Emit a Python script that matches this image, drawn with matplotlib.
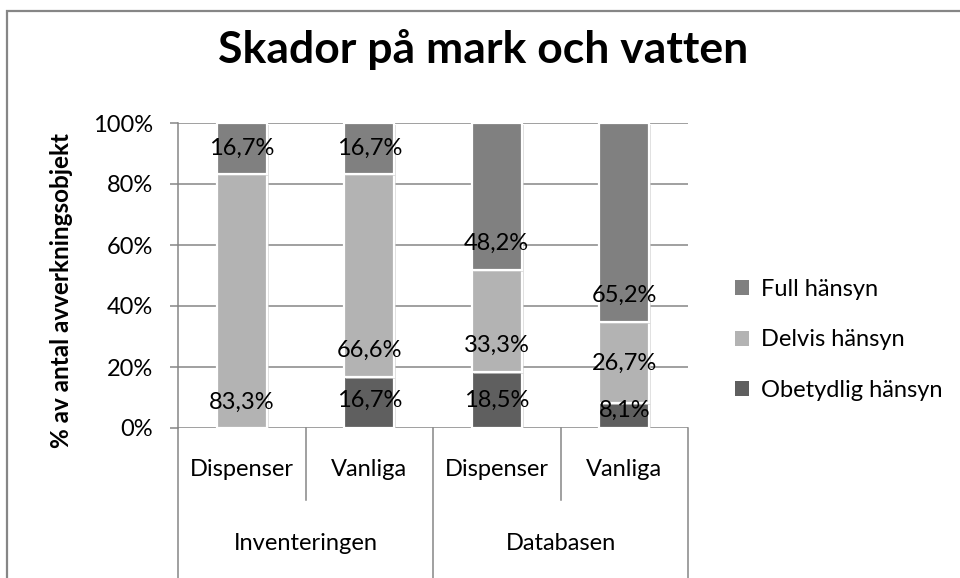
import matplotlib.pyplot as plt
from matplotlib.patches import Patch, Rectangle
import matplotlib.patheffects as pe

plt.rcParams['font.family'] = ['Lato', 'DejaVu Sans']

# data
groups = ['Inventeringen', 'Databasen']
subcats = ['Dispenser', 'Vanliga', 'Dispenser', 'Vanliga']
series = ['Obetydlig hänsyn', 'Delvis hänsyn', 'Full hänsyn']
obetydlig = [0.0, 16.7, 18.5, 8.1]
delvis = [83.3, 66.6, 33.3, 26.7]
full = [16.7, 16.7, 48.2, 65.2]
colors = ['#5f5f5f', '#b3b3b3', '#808080']

# where the labels were placed in the original (data units)
label_y = {
    'Obetydlig hänsyn': [None, 9.2, 9.0, 5.9],
    'Delvis hänsyn': [8.5, 25.6, 27.2, 21.3],
    'Full hänsyn': [91.8, 91.8, 60.7, 43.6],
}

FS = 17

fig = plt.figure(figsize=(9.6, 5.78), dpi=100)
fig.patches.append(Rectangle((7 / 960, -0.1), 1.2, 1 - 11 / 578 + 0.1,
                             transform=fig.transFigure, fill=False,
                             edgecolor='#868686', linewidth=1.6))

ax = fig.add_axes([178 / 960, 1 - 428 / 578, 510 / 960, 305 / 578])
x = list(range(len(subcats)))
bottom = [0.0] * len(subcats)
shadow = [pe.SimplePatchShadow(offset=(1.5, -1.5), shadow_rgbFace='#c8c8c8', alpha=0.6), pe.Normal()]
for name, vals, col in zip(series, [obetydlig, delvis, full], colors):
    bars = ax.bar(x, vals, width=0.39, bottom=bottom, color=col,
                  edgecolor='white', linewidth=1.6, zorder=3)
    for b in bars:
        b.set_path_effects(shadow)
    for i, v in enumerate(vals):
        ly = label_y[name][i]
        if ly is not None:
            ax.text(i, ly, f'{v:.1f}%'.replace('.', ','), ha='center', va='center',
                    fontsize=FS, color='black', zorder=5)
    bottom = [b + v for b, v in zip(bottom, vals)]

ax.set_xlim(-0.5, 3.5)
ax.set_ylim(0, 100)
ax.set_yticks(range(0, 101, 20))
ax.set_yticklabels([f'{t}%' for t in range(0, 101, 20)], fontsize=FS)
ax.yaxis.grid(True, color='#868686', linewidth=1.1, zorder=0)
ax.tick_params(axis='y', length=6, width=1.1, color='#868686', pad=12)
ax.set_xticks([])
for s in ['top', 'right', 'bottom']:
    ax.spines[s].set_visible(False)
ax.spines['left'].set_color('#868686')
ax.spines['left'].set_linewidth(1.1)
ax.set_ylabel('% av antal avverkningsobjekt', fontsize=17.5, fontweight='bold')
ax.yaxis.set_label_coords(-105 / 510, 0.45)

# two-level category axis below the plot
tr = ax.get_xaxis_transform()
lvl1 = -72 / 305
lvl2 = -160 / 305
for xs in [-0.5, 1.5, 3.5]:
    ax.plot([xs, xs], [0, lvl2], transform=tr, color='#868686', lw=1.1, clip_on=False)
for xs in [0.5, 2.5]:
    ax.plot([xs, xs], [0, lvl1], transform=tr, color='#868686', lw=1.1, clip_on=False)
for i, lab in enumerate(subcats):
    ax.text(i, -42 / 305, lab, transform=tr, ha='center', va='center', fontsize=FS)
for j, g in enumerate(groups):
    ax.text(2 * j + 0.5, -115 / 305, g, transform=tr, ha='center', va='center', fontsize=FS)

fig.text(483 / 960, 1 - 50 / 578, 'Skador på mark och vatten', ha='center', va='center',
         fontsize=32, fontweight='bold')

handles = [Patch(facecolor=c, edgecolor='none') for c in colors][::-1]
fig.legend(handles, series[::-1], loc='center left', bbox_to_anchor=(714 / 960, 1 - 340 / 578),
           frameon=False, fontsize=FS, handlelength=0.6, handleheight=0.6,
           handletextpad=0.5, labelspacing=1.25)

fig.savefig('out.png', dpi=100)
